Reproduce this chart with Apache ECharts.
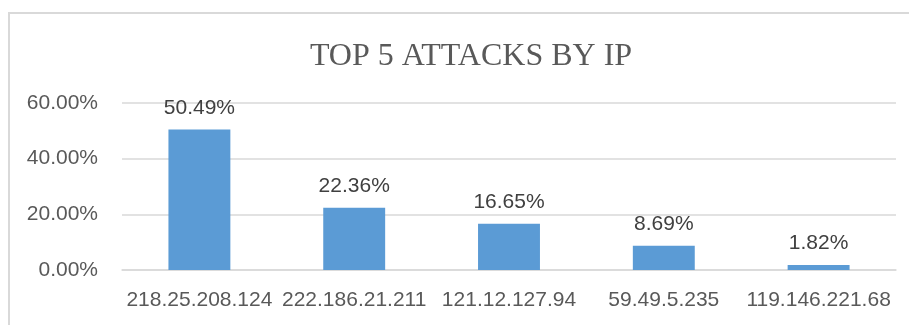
<!DOCTYPE html>
<html>
<head>
<meta charset="utf-8">
<script src="https://cdn.jsdelivr.net/npm/echarts@6/dist/echarts.min.js"></script>
<style>
  html, body { margin: 0; padding: 0; background: #fff; }
  #chart { width: 909px; height: 325px; }
</style>
</head>
<body>
<div id="chart"></div>
<script>
// Share of attacks per source IP (percent)
const categories = ['218.25.208.124', '222.186.21.211', '121.12.127.94', '59.49.5.235', '119.146.221.68'];
const attackShare = [50.49, 22.36, 16.65, 8.69, 1.82];
const yTicks = { min: 0, max: 60, interval: 20 };

const chart = echarts.init(document.getElementById('chart'));
const labelFont = 'Liberation Sans, Arial, sans-serif';

chart.setOption({
  animation: false,
  title: {
    text: 'TOP 5 ATTACKS BY IP',
    left: 466,
    textAlign: 'center',
    top: 36,
    textStyle: {
      fontFamily: 'Liberation Serif, Times New Roman, serif',
      fontWeight: 'normal',
      fontSize: 32,
      color: '#595959'
    }
  },
  graphic: [{
    type: 'rect',
    shape: { x: 9, y: 13, width: 940, height: 340 },
    style: { fill: 'none', stroke: '#d9d9d9', lineWidth: 2 },
    silent: true
  }],
  grid: { left: 122, right: 13, top: 103, bottom: 55 },
  xAxis: {
    type: 'category',
    data: categories,
    axisTick: { show: false },
    axisLine: { lineStyle: { color: '#d9d9d9', width: 1.5 } },
    axisLabel: {
      interval: 0,
      margin: 20,
      fontFamily: labelFont,
      fontSize: 21,
      color: '#595959'
    }
  },
  yAxis: {
    type: 'value',
    min: yTicks.min,
    max: yTicks.max,
    interval: yTicks.interval,
    axisLine: { show: false },
    axisTick: { show: false },
    splitLine: { lineStyle: { color: '#d9d9d9', width: 1.5 } },
    axisLabel: {
      margin: 24,
      fontFamily: labelFont,
      fontSize: 21,
      color: '#595959',
      formatter: v => v.toFixed(2) + '%'
    }
  },
  series: [{
    type: 'bar',
    data: attackShare,
    barWidth: '40%',
    itemStyle: { color: '#5B9BD5' },
    label: {
      show: true,
      position: 'top',
      distance: 11,
      fontFamily: labelFont,
      fontSize: 21,
      color: '#404040',
      formatter: p => p.value.toFixed(2) + '%'
    }
  }]
});
</script>
</body>
</html>
